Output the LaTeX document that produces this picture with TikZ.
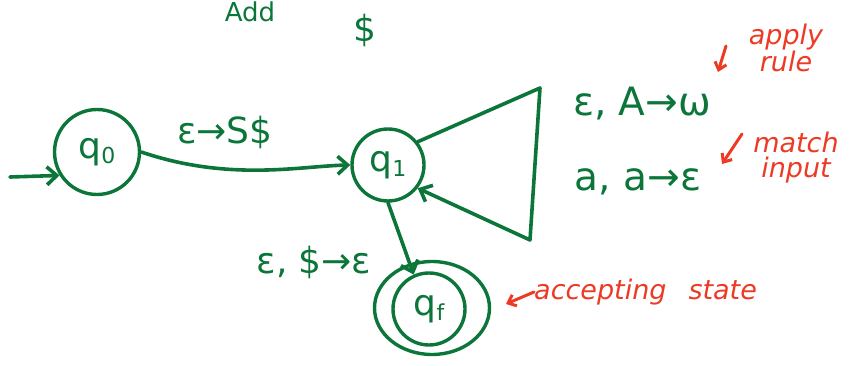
\documentclass[tikz,border=0pt]{standalone}
\usepackage{fontspec}
\setmainfont{DejaVu Sans}
\usetikzlibrary{arrows.meta,shapes.geometric}
\definecolor{ink}{RGB}{12,118,58}
\definecolor{note}{RGB}{236,58,36}
\newcommand\statesub[1]{\raisebox{-0.25ex}{\fontsize{22}{22}\selectfont #1}}
\tikzset{
  state/.style={draw=ink, line width=3.4pt, circle, text=ink, inner sep=0pt, font=\fontsize{36}{36}\selectfont},
  edge/.style={draw=ink, line width=3.6pt, line cap=round, line join=round, -{Straight Barb[length=10pt,width=18pt,line width=3.6pt]}},
  lbl/.style={text=ink, font=\fontsize{36}{36}\selectfont, inner sep=1pt},
  rednote/.style={text=note, font=\itshape\fontsize{27}{25}\selectfont, inner sep=0pt, align=center},
  redarrow/.style={draw=note, line width=3pt, line cap=round, -{Straight Barb[length=7pt,width=12pt,line width=3pt]}}
}
\begin{document}
\begin{tikzpicture}[x=1pt,y=-1pt]
\useasboundingbox (0,0) rectangle (856,366);
% top text (partly seen in the reference)
\node[lbl, font=\fontsize{26}{26}\selectfont] (topword) at (250,12) {Add};
\node[lbl] (dollar) at (365,30) {\$};
% states
\node[state, minimum size=85pt] (q0) at (97,152) {q\statesub{0}};
\node[state, minimum size=72pt] (q1) at (388,165) {q\statesub{1}};
\node[state, ellipse, minimum width=115pt, minimum height=93pt] (qf) at (432,308) {};
\node[state, minimum size=72pt] (qfi) at (429,309) {q\statesub{f}};
% start arrow
\coordinate (start) at (10,177);
\draw[edge] (start) -- (q0.212);
% q0 -> q1
\draw[edge] (q0.east) .. controls (230,182) and (300,166) .. (q1.west);
\node[lbl] (l01) at (225,132) {ε→S\$};
% loop on q1
\coordinate (lt) at (540,88);
\coordinate (lb) at (530,240);
\draw[edge] (q1.38) -- (lt) -- (lb) -- (q1.-38);
\node[lbl, font=\fontsize{39}{39}\selectfont] (l11a) at (642,104) {ε, A→ω};
\node[lbl, font=\fontsize{39}{39}\selectfont] (l11b) at (638,182) {a, a→ε};
% q1 -> qf
\draw[edge] (q1.south) -- (qfi.114);
\node[lbl] (l1f) at (314,262) {ε, \$→ε};
% red notes
\node[rednote] (apply) at (786,48) {apply\\rule};
\coordinate (applytip) at (718,72);
\draw[redarrow] (726,46) -- (applytip);
\node[rednote] (match) at (796,158) {match\\input};
\coordinate (matchtip) at (722,164);
\draw[redarrow] (742,134) -- (matchtip);
\node[rednote, anchor=west] (accept) at (534,292) {accepting\hspace{22pt}state};
\coordinate (accepttip) at (506,304);
\draw[redarrow] (accept.west) -- (accepttip);
\end{tikzpicture}
\end{document}
